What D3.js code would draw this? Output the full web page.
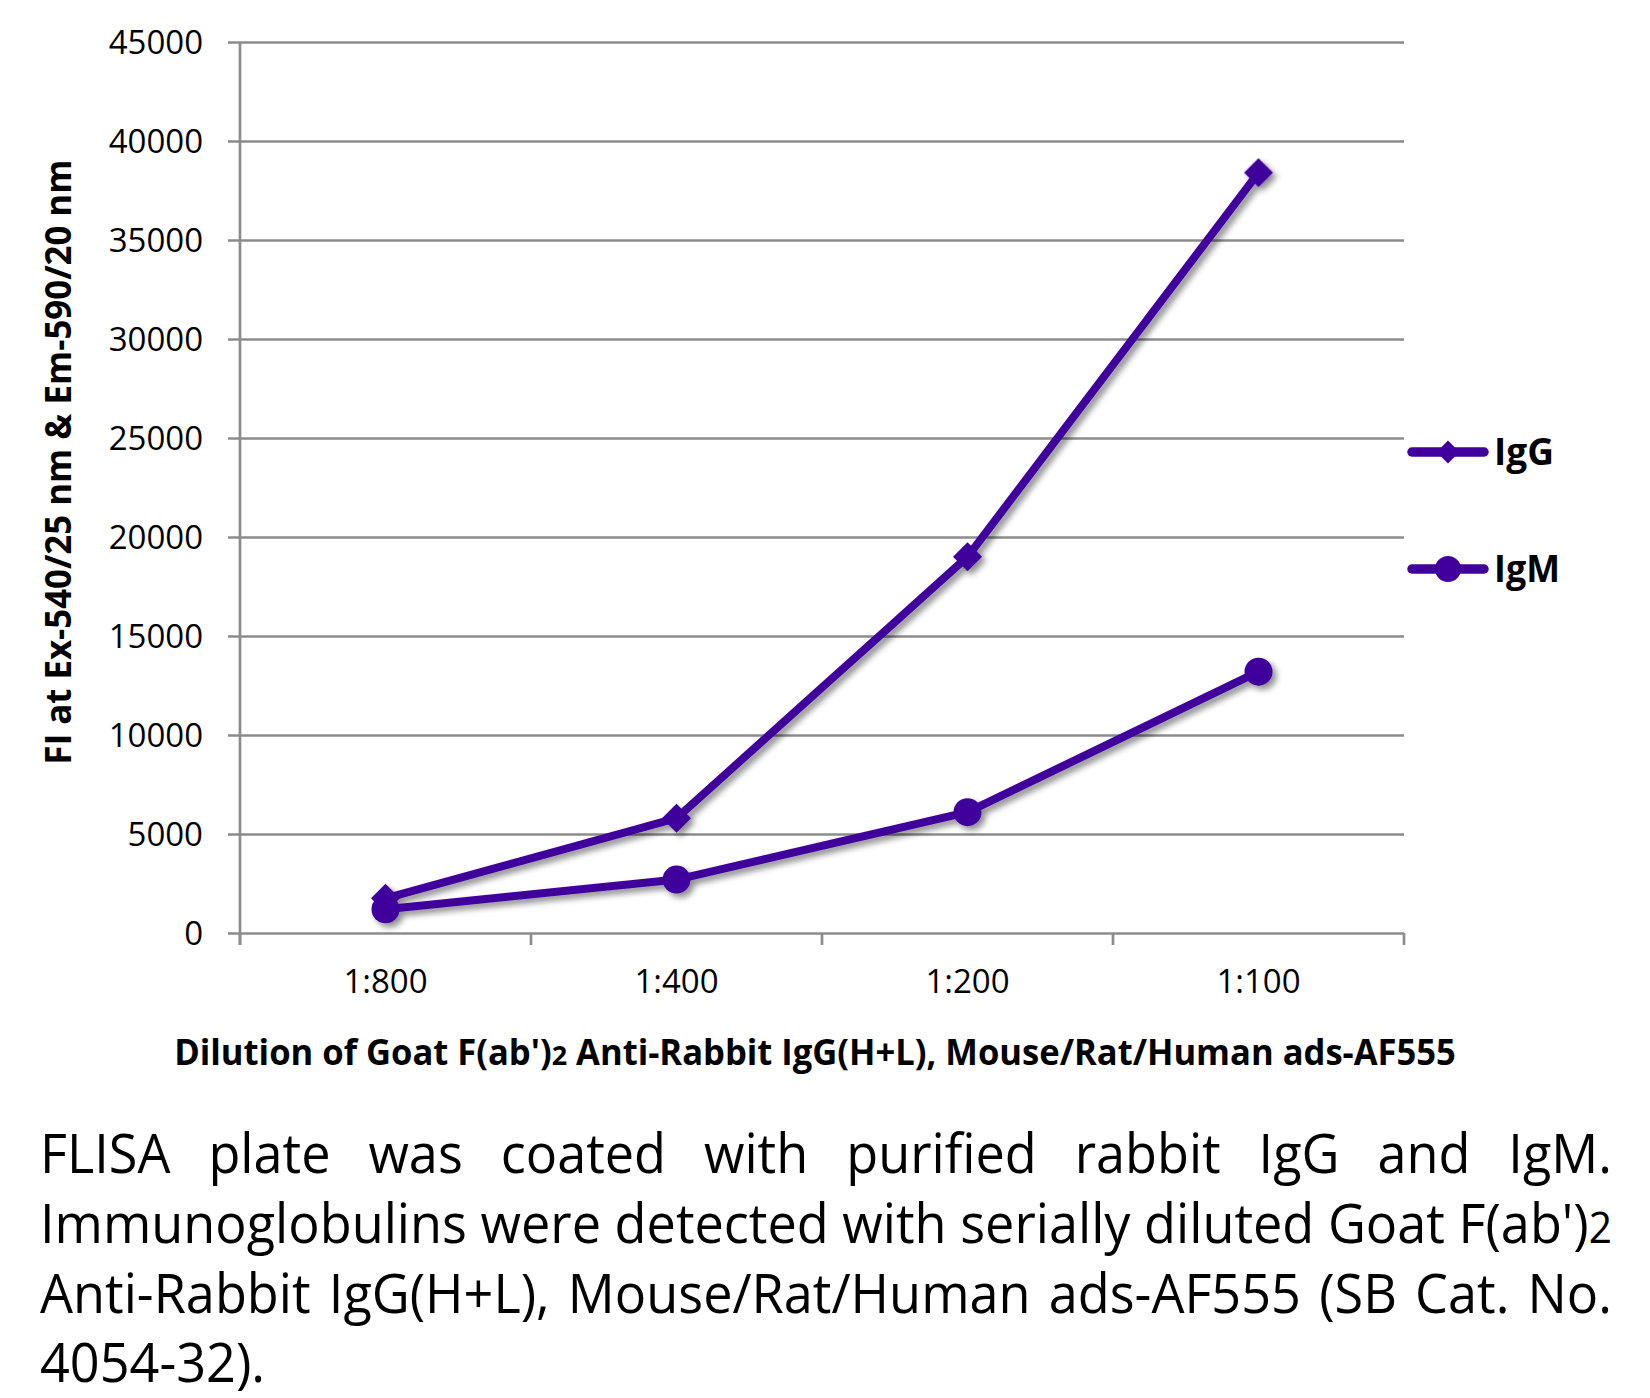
<!DOCTYPE html>
<html>
<head>
<meta charset="utf-8">
<script src="https://cdn.jsdelivr.net/npm/d3@7"></script>
<style>
  html, body { margin: 0; padding: 0; background: #ffffff; }
  svg { display: block; }
</style>
</head>
<body>
<svg id="chart" width="1650" height="1398"></svg>
<script>
// ---- data ----
const categories = ["1:800", "1:400", "1:200", "1:100"];
const iggValues = [1750, 5800, 19000, 38400];
const igmValues = [1200, 2700, 6100, 13200];
const yTicks = [0, 5000, 10000, 15000, 20000, 25000, 30000, 35000, 40000, 45000];
const seriesNames = ["IgG", "IgM"];
const xTitle = "Dilution of Goat F(ab')_2 Anti-Rabbit IgG(H+L), Mouse/Rat/Human ads-AF555";
const yTitle = "FI at Ex-540/25 nm & Em-590/20 nm";
const captionLines = [
  "FLISA plate was coated with purified rabbit IgG and IgM.",
  "Immunoglobulins were detected with serially diluted Goat F(ab')_2",
  "Anti-Rabbit IgG(H+L), Mouse/Rat/Human ads-AF555 (SB Cat. No.",
  "4054-32)."
];

// ---- layout ----
const FONT = "'Open Sans', 'Noto Sans', sans-serif";
const PURPLE = "#41009b";
const GRID = "#8c8c8c";
const plot = { left: 240, right: 1404, top: 42, bottom: 933 };

const svg = d3.select("#chart");

const defs = svg.append("defs");
const f = defs.append("filter").attr("id", "shadow")
  .attr("x", "-10%").attr("y", "-10%").attr("width", "130%").attr("height", "130%");
f.append("feGaussianBlur").attr("in", "SourceAlpha").attr("stdDeviation", 3).attr("result", "b");
f.append("feOffset").attr("in", "b").attr("dx", 4).attr("dy", 4).attr("result", "o");
f.append("feComponentTransfer").attr("in", "o").attr("result", "s")
  .append("feFuncA").attr("type", "linear").attr("slope", 0.45);
const fm = f.append("feMerge");
fm.append("feMergeNode").attr("in", "s");
fm.append("feMergeNode").attr("in", "SourceGraphic");

const x = d3.scaleBand().domain(categories).range([plot.left, plot.right]);
const y = d3.scaleLinear().domain([0, 45000]).range([plot.bottom, plot.top]);

// helper: rich text with "_2" as smaller 2
function richText(sel, str) {
  const parts = str.split("_2");
  parts.forEach((p, i) => {
    if (p.length) sel.append("tspan").text(p);
    if (i < parts.length - 1) sel.append("tspan").attr("font-size", "0.78em").text("2");
  });
  return sel;
}

// gridlines
const grid = svg.append("g").attr("transform", `translate(${plot.left},0)`)
  .call(d3.axisLeft(y).tickValues(yTicks).tickSize(-(plot.right - plot.left)).tickFormat(""));
grid.select(".domain").remove();
grid.selectAll(".tick line").attr("x1", -12).attr("stroke", GRID).attr("stroke-width", 2.7);

// y axis vertical line
svg.append("line").attr("x1", plot.left).attr("x2", plot.left)
  .attr("y1", plot.top).attr("y2", plot.bottom + 12)
  .attr("stroke", GRID).attr("stroke-width", 2.7);

// x boundary ticks
const bounds = categories.map(c => x(c)).concat([x(categories[categories.length - 1]) + x.bandwidth()]);
svg.append("g").selectAll("line").data(bounds).join("line")
  .attr("x1", d => d).attr("x2", d => d)
  .attr("y1", plot.bottom).attr("y2", plot.bottom + 12)
  .attr("stroke", GRID).attr("stroke-width", 2.7);

// y labels
const yAx = svg.append("g").attr("transform", `translate(${plot.left},0)`)
  .call(d3.axisLeft(y).tickValues(yTicks).tickSize(0).tickPadding(37).tickFormat(d3.format("d")));
yAx.select(".domain").remove();
yAx.selectAll("text").attr("font-family", FONT).attr("font-size", 33).attr("fill", "#000").attr("dy", "0.36em");

// x labels
const xAx = svg.append("g").attr("transform", `translate(0,${plot.bottom})`)
  .call(d3.axisBottom(x).tickSize(0));
xAx.select(".domain").remove();
xAx.selectAll("text").attr("font-family", FONT).attr("font-size", 33).attr("fill", "#000")
  .attr("y", 60).attr("dy", 0);

// titles with horizontal compression to fit target widths
function fittedText(str, opts) {
  const g = svg.append("g");
  const t = g.append("text").attr("font-family", FONT).attr("font-weight", opts.weight || "normal")
    .attr("font-size", opts.size).attr("fill", "#000").attr("text-anchor", opts.anchor || "start");
  richText(t, str);
  const w = t.node().getComputedTextLength();
  const k = opts.target ? opts.target / w : (opts.k || 1);
  g.attr("transform", `translate(${opts.x},${opts.y}) rotate(${opts.rotate || 0}) scale(${k},1)`);
  return g;
}

fittedText(xTitle, { size: 35, weight: "bold", anchor: "middle", x: 815, y: 1065, target: 1282 });
fittedText(yTitle, { size: 35, weight: "bold", anchor: "middle", x: 71, y: 462, rotate: -90, target: 605 });

// series
const series = [
  { name: seriesNames[0], values: iggValues, marker: "diamond" },
  { name: seriesNames[1], values: igmValues, marker: "circle" }
];
const line = d3.line().x((d, i) => x(categories[i]) + x.bandwidth() / 2).y(d => y(d));
const diamond = d3.symbol().type(d3.symbolSquare).size(420);

const plotG = svg.append("g").attr("filter", "url(#shadow)");
series.forEach(s => {
  const g = plotG.append("g");
  g.append("path").attr("d", line(s.values)).attr("fill", "none")
    .attr("stroke", PURPLE).attr("stroke-width", 8).attr("stroke-linejoin", "round");
  const pts = g.selectAll(".pt").data(s.values).join("g")
    .attr("transform", (d, i) => `translate(${x(categories[i]) + x.bandwidth() / 2},${y(d)})`);
  if (s.marker === "diamond") {
    pts.append("path").attr("d", diamond()).attr("transform", "rotate(45)").attr("fill", PURPLE);
  } else {
    pts.append("circle").attr("r", 14).attr("fill", PURPLE);
  }
});

// legend
const legendY = [452, 569];
const legendW = [60, 66];
series.forEach((s, i) => {
  const g = svg.append("g").attr("transform", `translate(0,${legendY[i]})`);
  g.append("line").attr("x1", 1412).attr("x2", 1484).attr("y1", 0).attr("y2", 0)
    .attr("stroke", PURPLE).attr("stroke-width", 9.5).attr("stroke-linecap", "round");
  if (s.marker === "diamond") {
    g.append("path").attr("d", d3.symbol().type(d3.symbolSquare).size(260)())
      .attr("transform", "translate(1448,0) rotate(45)").attr("fill", PURPLE);
  } else {
    g.append("circle").attr("cx", 1448).attr("r", 13).attr("fill", PURPLE);
  }
  fittedText(s.name, { size: 37, weight: "bold", x: 1494, y: legendY[i] + 13, target: legendW[i] });
});

// caption (justified)
const capSize = 55, capLeft = 40, capRight = 1612;
const capBase = [1173, 1243, 1313, 1382];
function measureWord(str) {
  const t = svg.append("text").attr("font-family", FONT).attr("font-size", capSize);
  richText(t, str);
  const w = t.node().getComputedTextLength();
  t.remove();
  return w;
}
const spaceW = (() => {
  const a = measureWord("a a"), b = measureWord("aa");
  return a - b;
})();
const line2Words = captionLines[1].split(" ");
const line2Nat = d3.sum(line2Words, measureWord) + spaceW * (line2Words.length - 1);
const kCap = (capRight - capLeft) / line2Nat;

captionLines.forEach((ln, li) => {
  const words = ln.split(" ");
  const widths = words.map(w => measureWord(w) * kCap);
  const justify = li < captionLines.length - 1;
  const gap = justify && words.length > 1
    ? ((capRight - capLeft) - d3.sum(widths)) / (words.length - 1)
    : spaceW * kCap;
  let cx = capLeft;
  words.forEach((w, wi) => {
    const g = svg.append("g").attr("transform", `translate(${cx},${capBase[li]}) scale(${kCap},1)`);
    const t = g.append("text").attr("font-family", FONT).attr("font-size", capSize).attr("fill", "#000");
    richText(t, w);
    cx += widths[wi] + gap;
  });
});
</script>
</body>
</html>
